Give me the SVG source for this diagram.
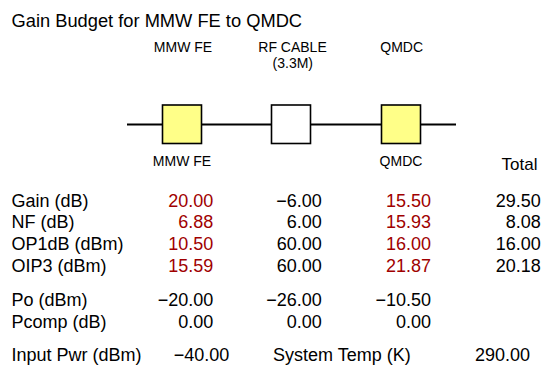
<svg xmlns="http://www.w3.org/2000/svg" width="550" height="373" viewBox="0 0 550 373">
<style>
text{font-family:"Liberation Sans",Arial,Helvetica,sans-serif;fill:#000}
.t{font-size:18px}
.s{font-size:14px;text-anchor:middle}
.r{text-anchor:end}
.red{fill:#A00000}
.box{stroke:#000;stroke-width:1.6}
.y{fill:#FFFF88}
.w{fill:#FFFFFF}
.ln{stroke:#000;stroke-width:1.8;fill:none}
</style>
<rect width="550" height="373" fill="#fff"/>
<text x="11.5" y="27.3" style="font-size:18.3px">Gain Budget for MMW FE to QMDC</text>
<g id="connectors">
<line class="ln" x1="127" y1="124.5" x2="162.5" y2="124.5"/>
<line class="ln" x1="201.5" y1="124.5" x2="271.5" y2="124.5"/>
<line class="ln" x1="310.5" y1="124.5" x2="381.5" y2="124.5"/>
<line class="ln" x1="420.5" y1="124.5" x2="456" y2="124.5"/>
</g>
<g id="mmwfe">
<text class="s" x="183" y="51.7">MMW FE</text>
<rect class="box y" x="162.5" y="105" width="39" height="38.5"/>
<text class="s" x="182" y="165.7">MMW FE</text>
</g>
<g id="rfcable">
<text class="s" x="292.5" y="51.7">RF CABLE</text>
<text class="s" x="292.8" y="67.5">(3.3M)</text>
<rect class="box w" x="271.5" y="105" width="39" height="38.5"/>
</g>
<g id="qmdc">
<text class="s" x="401.7" y="51.7">QMDC</text>
<rect class="box y" x="381.5" y="105" width="39" height="38.5"/>
<text class="s" x="401" y="165.7">QMDC</text>
</g>
<g id="table">
<text x="501.5" y="170" style="font-size:17px">Total</text>
<text class="t" x="11.5" y="206.7">Gain (dB)</text>
<text class="t" x="11.5" y="228.3">NF (dB)</text>
<text class="t" x="11.5" y="250">OP1dB (dBm)</text>
<text class="t" x="11.5" y="272.3">OIP3 (dBm)</text>
<text class="t" x="11.5" y="306">Po (dBm)</text>
<text class="t" x="11.5" y="328.3">Pcomp (dB)</text>
<text class="t" x="11.5" y="361">Input Pwr (dBm)</text>
<text class="t r red" x="213.3" y="206.7">20.00</text>
<text class="t r red" x="213.3" y="228.3">6.88</text>
<text class="t r red" x="213.3" y="250">10.50</text>
<text class="t r red" x="213.3" y="272.3">15.59</text>
<text class="t r" x="213.3" y="306">−20.00</text>
<text class="t r" x="213.3" y="328.3">0.00</text>
<text class="t r" x="321.7" y="206.7">−6.00</text>
<text class="t r" x="321.7" y="228.3">6.00</text>
<text class="t r" x="321.7" y="250">60.00</text>
<text class="t r" x="321.7" y="272.3">60.00</text>
<text class="t r" x="321.7" y="306">−26.00</text>
<text class="t r" x="321.7" y="328.3">0.00</text>
<text class="t r red" x="431" y="206.7">15.50</text>
<text class="t r red" x="431" y="228.3">15.93</text>
<text class="t r red" x="431" y="250">16.00</text>
<text class="t r red" x="431" y="272.3">21.87</text>
<text class="t r" x="431" y="306">−10.50</text>
<text class="t r" x="431" y="328.3">0.00</text>
<text class="t r" x="540.7" y="206.7">29.50</text>
<text class="t r" x="540.7" y="228.3">8.08</text>
<text class="t r" x="540.7" y="250">16.00</text>
<text class="t r" x="540.7" y="272.3">20.18</text>
<text class="t r" x="229.3" y="361">−40.00</text>
<text class="t" x="273" y="361">System Temp (K)</text>
<text class="t r" x="530" y="361">290.00</text>
</g>
</svg>
